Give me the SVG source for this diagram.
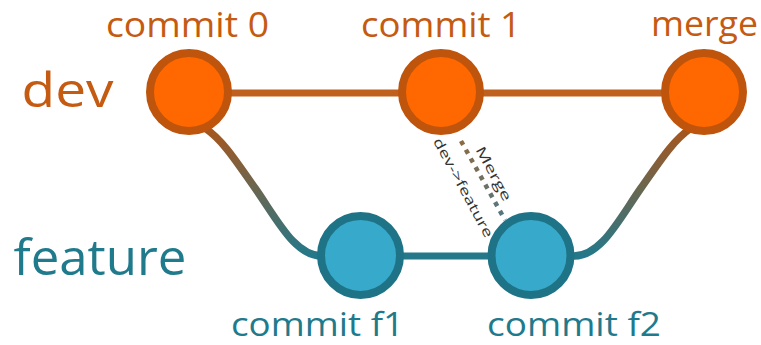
<svg xmlns="http://www.w3.org/2000/svg" width="761" height="345" viewBox="0 0 761 345">
<defs>
<linearGradient id="gCurve" gradientUnits="userSpaceOnUse" x1="0" y1="128" x2="0" y2="256">
<stop offset="0" stop-color="#A8561C"/>
<stop offset="1" stop-color="#24788A"/>
</linearGradient>
<linearGradient id="gDots" gradientUnits="userSpaceOnUse" x1="460" y1="140" x2="505" y2="220">
<stop offset="0" stop-color="#8E6A40"/>
<stop offset="1" stop-color="#4F7886"/>
</linearGradient>
<style>
.lbl{font-family:"Open Sans","Noto Sans","Liberation Sans",sans-serif;text-anchor:middle}
.dev{fill:#C55A11}
.feat{fill:#1F7A8C}
.dnode{fill:#FF6800;stroke:#BF540C;stroke-width:8}
.fnode{fill:#37A9CA;stroke:#1F7386;stroke-width:8}
.small{font-family:"Open Sans","Noto Sans","Liberation Sans",sans-serif;font-size:13.5px;fill:#333;text-anchor:middle;dominant-baseline:central}
</style>
</defs>
<g id="connectors" fill="none">
<line x1="189" y1="93" x2="704" y2="93" stroke="#C0601E" stroke-width="7"/>
<line x1="360" y1="256" x2="531" y2="256" stroke="#24788A" stroke-width="7"/>
<path d="M205 128 C222 140 232 155 255 188 C278 221 295 256 322 256" stroke="url(#gCurve)" stroke-width="7.5"/>
<path d="M691 128 C674 140 664 155 641 188 C618 221 601 256 574 256" stroke="url(#gCurve)" stroke-width="7.5"/>
<line x1="461" y1="141" x2="505" y2="220" stroke="url(#gDots)" stroke-width="4.5" stroke-dasharray="4.5 5.5"/>
<text class="small" transform="translate(494 173.5) rotate(61.7)" textLength="60" lengthAdjust="spacingAndGlyphs">Merge</text>
<text class="small" transform="translate(463.5 187.5) rotate(61.7)" textLength="111" lengthAdjust="spacingAndGlyphs">dev-&gt;feature</text>
</g>
<g id="dev-label"><text class="lbl dev" x="67.5" y="107" font-size="47" textLength="92" lengthAdjust="spacingAndGlyphs">dev</text></g>
<g id="feature-label"><text class="lbl feat" x="100" y="275" font-size="50" textLength="173" lengthAdjust="spacingAndGlyphs">feature</text></g>
<g id="commit0">
<circle class="dnode" cx="189" cy="92" r="39"/>
<text class="lbl dev" x="187.5" y="37" font-size="34" textLength="163" lengthAdjust="spacingAndGlyphs">commit 0</text>
</g>
<g id="commit1">
<circle class="dnode" cx="441" cy="92" r="39"/>
<text class="lbl dev" x="441" y="37" font-size="34" textLength="160" lengthAdjust="spacingAndGlyphs">commit 1</text>
</g>
<g id="merge">
<circle class="dnode" cx="704" cy="92" r="39"/>
<text class="lbl dev" x="704.5" y="36" font-size="34" textLength="107" lengthAdjust="spacingAndGlyphs">merge</text>
</g>
<g id="commitf1">
<circle class="fnode" cx="360.5" cy="255.5" r="39.5"/>
<text class="lbl feat" x="317.5" y="336" font-size="32" textLength="173" lengthAdjust="spacingAndGlyphs">commit f1</text>
</g>
<g id="commitf2">
<circle class="fnode" cx="531" cy="255.5" r="39.5"/>
<text class="lbl feat" x="574" y="336" font-size="32" textLength="174" lengthAdjust="spacingAndGlyphs">commit f2</text>
</g>
</svg>
